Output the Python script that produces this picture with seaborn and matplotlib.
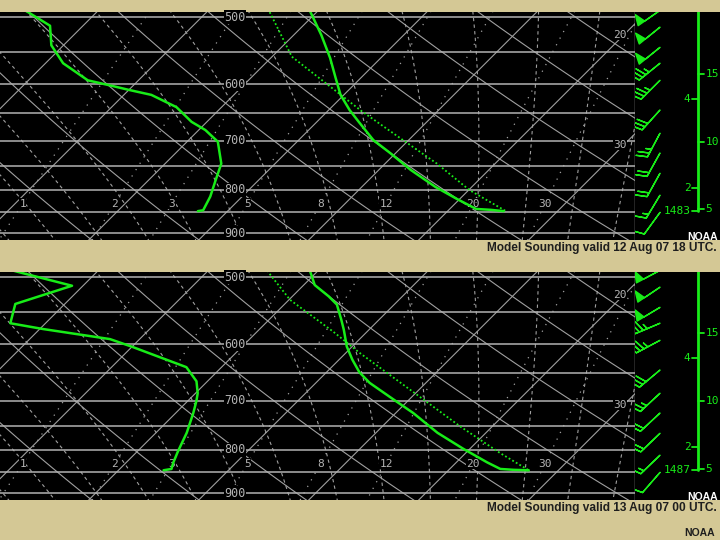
import numpy as np
import pandas as pd
import matplotlib
matplotlib.use("Agg")
import matplotlib.pyplot as plt
import seaborn as sns

sns.set_style("dark")
plt.rcParams['font.family'] = ['Liberation Sans', 'DejaVu Sans']

# ---- sounding 1: 12 Aug 07 18 UTC
temp_pres_1 = [848, 845, 843, 820, 794, 758, 724, 699, 665, 644, 618, 590, 559, 525, 485]
temp_1 = [25.1, 23.8, 22.4, 19.7, 16.7, 12.9, 9.5, 6.8, 3.8, 1.9, -0.3, -2.3, -4.6, -7.5, -11.4]
dewp_pres_1 = [848, 846, 815, 783, 745, 702, 680, 665, 639, 618, 610, 602, 594, 567, 540, 512, 493, 484]
dewp_1 = [-2.7, -2.3, -2.9, -3.8, -4.9, -7.2, -9.4, -11.4, -14.1, -17.5, -19.9, -22.2, -24.6,
          -28.4, -31.1, -33.0, -36.3, -38.0]
parcel_pres_1 = [847, 801, 745, 699, 646, 557, 495, 484]
parcel_1 = [25.2, 20.1, 14.7, 9.5, 3.1, -8.2, -14.1, -15.3]
wdir_1 = [235, 231, 231, 231, 225, 222, 208, 209, 209, 211, 216]
wspd_1 = [50, 50, 50, 35, 35, 30, 25, 20, 20, 15, 10]
sfc_hgt_1 = 1483

# ---- sounding 2: 13 Aug 07 00 UTC
temp_pres_2 = [846, 845, 843, 828, 798, 764, 724, 698, 667, 648, 626, 604, 577, 562, 539, 527, 511, 493, 484]
temp_2 = [27.3, 25.9, 24.6, 22.8, 19.4, 15.6, 11.6, 8.6, 4.9, 3.0, 1.2, -0.5, -2.3, -3.4, -5.2, -6.7,
          -9.0, -10.6, -11.5]
dewp_pres_2 = [846, 843, 829, 804, 764, 724, 701, 686, 664, 639, 604, 592, 576, 567, 538, 512, 493, 484]
dewp_2 = [-5.9, -5.3, -5.7, -6.3, -7.2, -8.4, -9.2, -9.8, -11.0, -13.2, -20.1, -22.7, -29.7, -33.2,
          -34.5, -31.0, -37.2, -40.1]
parcel_pres_2 = [845, 807, 751, 683, 615, 580, 532, 495, 484]
parcel_2 = [27.2, 23.1, 17.1, 9.6, 1.3, -3.1, -9.9, -14.2, -15.4]
wdir_2 = [242, 236, 239, 247, 242, 230, 227, 227, 226, 226, 221]
wspd_2 = [50, 50, 50, 35, 35, 30, 25, 20, 20, 15, 10]
sfc_hgt_2 = 1487

wind_pres = [491, 514, 543, 567, 594, 644, 686, 724, 765, 812, 851]
isobars = [500, 550, 600, 650, 700, 750, 800, 850, 900]
isobar_labels = [500, 600, 700, 800, 900]
isotherms = list(range(-80, 60, 10))
dry_adiabats = list(range(240, 400, 10))
moist_adiabats = list(range(-20, 44, 4))
mix_ratios = [1, 2, 3, 5, 8, 12, 20, 30]
km_ticks = [2, 4]
kft_ticks = [5, 10, 15]
titles = ["Model Sounding valid 12 Aug 07 18 UTC.", "Model Sounding valid 13 Aug 07 00 UTC."]

# ---- chart geometry / style
SKEW = 33.41          # deg C per unit ln(p)
XLIM = (-38.34, 19.39)
PLIM = (917.3, 493.2)
SCALE_H = 8.26        # km
GREEN = '#18ec18'
GRID = '#a0a0a0'
TAN = '#d4c895'
LABEL_GRAY = '#b4b4b4'
MONO = 'DejaVu Sans Mono'


def skew_x(t, p):
    return np.asarray(t, float) - SKEW * np.log(np.asarray(p, float) / 500.0)


def sat_adiabat(tw, p_out):
    p_grid = np.linspace(1000, 470, 600)
    T = tw + 273.15
    temps = [T]
    for i in range(1, len(p_grid)):
        p0 = p_grid[i - 1]
        es = 6.112 * np.exp(17.67 * (T - 273.15) / (T - 29.65))
        rs = 0.622 * es / (p0 - es)
        dtdp = (287.04 * T + 2.501e6 * rs) / (1005.7 + 2.501e6 ** 2 * rs * 0.622 / (287.04 * T ** 2)) / p0
        T = T + dtdp * (p_grid[i] - p0)
        temps.append(T)
    return np.interp(p_out, p_grid[::-1], np.array(temps)[::-1]) - 273.15


def mix_td(w, p):
    e = p * w / (622.0 + w)
    a = np.log(e / 6.112)
    return 243.5 * a / (17.67 - a)


def draw_panel(bottom, tp, tt, dp, dt, pp, pt, wdir, wspd, sfc_hgt, title):
    ax = fig.add_axes([0, bottom, 635 / 720, 228 / 540])
    ax.set_facecolor('black')
    ax.set_yscale('log')
    pr = np.geomspace(PLIM[1] * 0.98, PLIM[0] * 1.02, 60)

    for T in isotherms:
        ax.plot(skew_x(np.full_like(pr, T), pr), pr, color=GRID, lw=0.8, zorder=1)
    for th in dry_adiabats:
        ax.plot(skew_x(th * (pr / 1000.0) ** 0.2857 - 273.15, pr), pr, color=GRID, lw=0.8, zorder=1)
    for tw in moist_adiabats:
        ax.plot(skew_x(sat_adiabat(tw, pr), pr), pr, color=GRID, lw=0.8,
                ls=(0, (3, 3)), zorder=1)
    for w in mix_ratios:
        ax.plot(skew_x(mix_td(w, pr), pr), pr, color=GRID, lw=0.9, ls=(0, (1, 5)), zorder=1)
        ax.text(skew_x(mix_td(w, 831.0), 831.0), 831.0, str(w), color=LABEL_GRAY, fontsize=8,
                family=MONO, ha='center', va='center', zorder=3,
                bbox=dict(facecolor='black', edgecolor='none', pad=0.3))
    for p in isobars:
        ax.axhline(p, color='#b2b2b2', lw=1.1, zorder=2)
    for p in isobar_labels:
        ax.text(-16.97, p, str(p), color=LABEL_GRAY, fontsize=8.5, family=MONO,
                ha='center', va='center', zorder=3,
                bbox=dict(facecolor='black', edgecolor='none', pad=0.5))
    x_lab = XLIM[1] - 1.36
    for T in isotherms:
        p_lab = 500.0 * np.exp((T - x_lab) / SKEW)
        if PLIM[1] + 15 < p_lab < PLIM[0] - 15:
            ax.annotate(str(T), (x_lab, p_lab), xytext=(0, 3), textcoords='offset points',
                        color=LABEL_GRAY, fontsize=8, family=MONO, ha='center', va='center',
                        zorder=3, bbox=dict(facecolor='black', edgecolor='none', pad=0.3))

    prof_t = pd.DataFrame({'X': skew_x(tt, tp), 'p': tp})
    prof_d = pd.DataFrame({'X': skew_x(dt, dp), 'p': dp})
    prof_p = pd.DataFrame({'X': skew_x(pt, pp), 'p': pp})
    sns.lineplot(data=prof_p, x='X', y='p', sort=False, estimator=None, color=GREEN,
                 lw=1.3, ls=(0, (1, 1.3)), ax=ax, zorder=4)
    sns.lineplot(data=prof_t, x='X', y='p', sort=False, estimator=None, color=GREEN,
                 lw=1.8, ax=ax, zorder=5)
    sns.lineplot(data=prof_d, x='X', y='p', sort=False, estimator=None, color=GREEN,
                 lw=1.8, ax=ax, zorder=5)

    ax.set_xlim(*XLIM)
    ax.set_ylim(*PLIM)
    ax.set_xticks([])
    ax.set_yticks([])
    ax.minorticks_off()
    ax.set_xlabel('')
    ax.set_ylabel('')
    for s in ['left', 'top', 'bottom']:
        ax.spines[s].set_visible(False)
    ax.spines['right'].set_color('#b8b8b8')
    ax.spines['right'].set_linewidth(1.0)

    # wind barbs and height scale strip
    st = fig.add_axes([635 / 720, bottom, 85 / 720, 228 / 540])
    st.set_facecolor('black')
    st.set_yscale('log')
    rad = np.deg2rad(wdir)
    u = -np.asarray(wspd) * np.sin(rad)
    v = -np.asarray(wspd) * np.cos(rad)
    st.barbs(np.full(len(wind_pres), 25.0), wind_pres, u, v, length=6.2, color=GREEN,
             linewidth=1.0, sizes=dict(spacing=0.16, height=0.4, width=0.3))

    p_sfc = tp[0]
    hk = sfc_hgt / 1000.0
    h_top = hk + SCALE_H * np.log(p_sfc / (PLIM[1] * 0.99))
    h_line = np.linspace(hk, h_top, 20)
    st.plot(np.full_like(h_line, 63.0), p_sfc * np.exp(-(h_line - hk) / SCALE_H),
            color=GREEN, lw=2.0)
    for h in km_ticks:
        ph = p_sfc * np.exp(-(h - hk) / SCALE_H)
        st.plot([57, 63], [ph, ph], color=GREEN, lw=1.3)
        st.text(55.5, ph, str(h), color=GREEN, fontsize=8, family=MONO, ha='right', va='center')
    for h in kft_ticks:
        ph = p_sfc * np.exp(-(h * 0.3048 - hk) / SCALE_H)
        st.plot([63, 69], [ph, ph], color=GREEN, lw=1.3)
        st.text(70.5, ph, str(h), color=GREEN, fontsize=8, family=MONO, ha='left', va='center')
    st.plot([57, 63], [p_sfc, p_sfc], color=GREEN, lw=1.3)
    st.text(55.5, p_sfc, str(sfc_hgt), color=GREEN, fontsize=8, family=MONO, ha='right', va='center')
    st.text(83, PLIM[0] * 0.992, 'NOAA', color='white', fontsize=7.5, fontweight='bold',
            ha='right', va='center')

    st.set_xlim(0, 85)
    st.set_ylim(*PLIM)
    st.set_xticks([])
    st.set_yticks([])
    st.minorticks_off()
    for s in st.spines.values():
        s.set_visible(False)

    fig.text(0.996, bottom - 8 / 540, title, color='#1e1e1e', fontsize=8.6,
             fontweight='bold', ha='right', va='center')


fig = plt.figure(figsize=(7.2, 5.4), dpi=100)
fig.patch.set_facecolor(TAN)

draw_panel(1 - 240 / 540, temp_pres_1, temp_1, dewp_pres_1, dewp_1, parcel_pres_1, parcel_1,
           wdir_1, wspd_1, sfc_hgt_1, titles[0])
draw_panel(1 - 500 / 540, temp_pres_2, temp_2, dewp_pres_2, dewp_2, parcel_pres_2, parcel_2,
           wdir_2, wspd_2, sfc_hgt_2, titles[1])

fig.text(0.993, 1 - 533 / 540, 'NOAA', color='#1e1e1e', fontsize=7.5, fontweight='bold',
         ha='right', va='center')

fig.savefig('out.png', dpi=100, facecolor=TAN)
